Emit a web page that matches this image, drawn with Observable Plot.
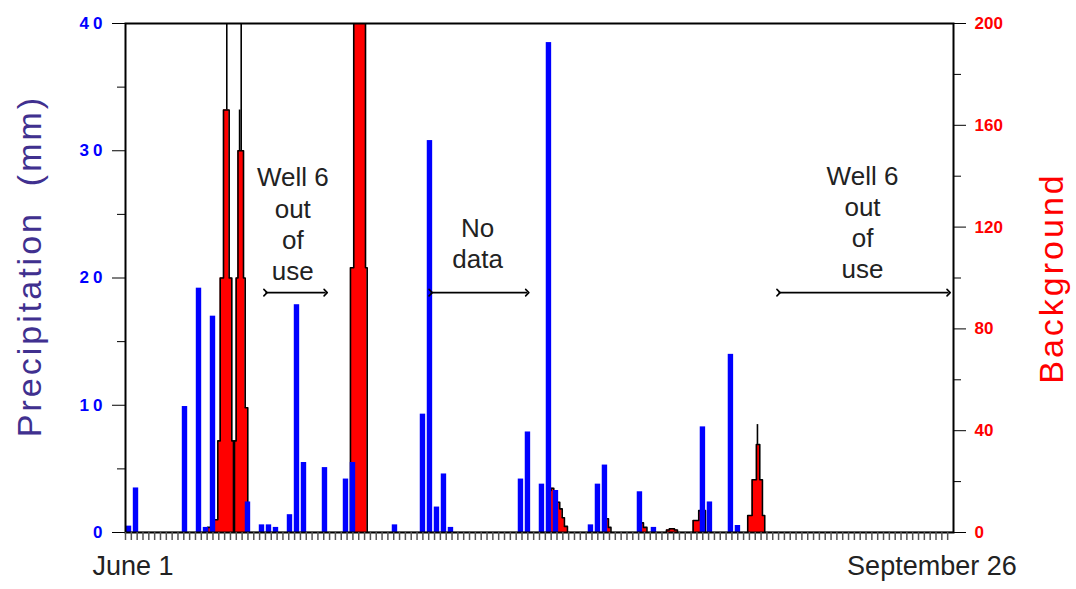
<!DOCTYPE html>
<html><head><meta charset="utf-8">
<script src="https://cdn.jsdelivr.net/npm/d3@7"></script>
<script src="https://cdn.jsdelivr.net/npm/@observablehq/plot@0.6"></script>
<style>
body{margin:0;background:#fff;}
#chart svg{display:block;}
</style></head><body><div id="chart"></div>
<script>
// Daily precipitation (day 0 = June 1)
const precipDay = [0,1,8,10,11,12,17,19,20,21,23,24,25,28,31,32,38,42,43,44,45,46,56,57,59,60,61,66,67,68,73,75,82,83,86,87];
const precipMm  = [0.5,3.5,9.9,19.2,0.4,17.0,2.4,0.6,0.6,0.4,1.4,17.9,5.5,5.1,4.2,5.5,0.6,9.3,30.8,2.0,4.6,0.4,4.2,7.9,3.8,38.5,3.3,0.6,3.8,5.3,3.2,0.4,8.3,2.4,14.0,0.55];

// Background series (step values, day fraction since June 1)
const bgDay   = [0,11.71,12.43,13.19,13.53,14.0,14.81,15.19,15.43,15.57,15.81,16.07,16.86,17.1,17.47,32.14,32.61,34.29,34.53,60.57,60.81,61.19,61.67,62.04,62.39,62.71,63.14,68.29,68.67,69.0,69.36,73.29,73.57,74.0,74.5,77.29,77.71,78.43,78.86,81.1,81.9,82.86,88.9,89.53,90.14,90.62,91.0,91.33,118.3];
const bgValue = [0,2,5,36,100,166,100,36,0,36,100,150,100,49,0,104,260,104,0,16.5,17.4,14.5,11.9,9.3,5.8,2.4,0,8,5.4,2,0,2,3.8,2,0,1,1.5,1,0,4.7,8.6,0,6.7,20.7,34.6,20.7,6.7,0,0];

// Narrow background peaks drawn as outlines
const spikeDay  = [14.47,16.3,16.53,90.29];
const spikeLow  = [166,150,150,34.6];
const spikeHigh = [260,166,260,42.4];

const leftTicks  = [0,10,20,30,40];
const leftMinor  = [5,15,25,35];
const rightTicks = [0,40,80,120,160,200];
const rightMinor = [20,60,100,140,180];
const bgPerMm = 5;
const xTickCount = 142;
const dayMax = 118.3;

const dateLabels = ["June 1","September 26"];
const dateDays   = [0,117];

const noteText = ["Well 6\nout\nof\nuse","No\ndata","Well 6\nout\nof\nuse"];
const noteDay  = [23.9,50.3,105.3];
const noteMm   = [24.3,22.8,24.45];
const arrowFrom = [20,43.6,93.3];
const arrowTo   = [28.6,57.4,117.6];
const arrowMm   = [18.85,18.85,18.85];

const precip = precipDay.map((d,i)=>({day:d, mm:precipMm[i]}));
const bg = bgDay.map((d,i)=>({day:d, v:bgValue[i]/bgPerMm}));
const spikes = spikeDay.map((d,i)=>({day:d, lo:spikeLow[i]/bgPerMm, hi:spikeHigh[i]/bgPerMm}));
const notes = noteText.map((t,i)=>({t, day:noteDay[i], mm:noteMm[i]}));
const arrows = arrowFrom.map((a,i)=>({a, b:arrowTo[i], mm:arrowMm[i]}));
const xTicks = d3.range(xTickCount).map(i=>i*dayMax/xTickCount);

const font = "'Liberation Sans', Arial, sans-serif";

const plot = Plot.plot({
  width:1076, height:589,
  marginLeft:125, marginRight:123, marginTop:23, marginBottom:57,
  style:{fontFamily:font, background:"#fff"},
  x:{domain:[0,dayMax]},
  y:{domain:[0,40]},
  marks:[
    Plot.areaY(bg,{x:"day", y:"v", curve:"step-after", fill:"#ff0000", clip:true}),
    Plot.lineY(bg,{x:"day", y:"v", curve:"step-after", stroke:"#000", strokeWidth:1.6, clip:true}),
    Plot.ruleX(spikes,{x:"day", y1:"lo", y2:"hi", stroke:"#000", strokeWidth:1.6, clip:true}),
    Plot.rectY(precip,{x1:"day", x2:d=>d.day+1, y:"mm", fill:"#0000ff", insetLeft:0.8, insetRight:0.8}),
    Plot.frame({stroke:"#000", strokeWidth:2}),
    // left axis
    Plot.axisY({anchor:"left", ticks:leftTicks, tickSize:13, tickPadding:10, fill:"#0000ff", stroke:"#000", fontWeight:"bold", fontSize:17, label:null}),
    Plot.axisY({anchor:"left", ticks:leftMinor, tickSize:8, tickFormat:()=>"", stroke:"#000", label:null}),
    // right axis (background units)
    Plot.axisY({anchor:"right", ticks:rightTicks.map(v=>v/bgPerMm), tickSize:12, tickPadding:9, tickFormat:d=>String(Math.round(d*bgPerMm)), fill:"#ff0000", stroke:"#000", fontWeight:"bold", fontSize:17, label:null}),
    Plot.axisY({anchor:"right", ticks:rightMinor.map(v=>v/bgPerMm), tickSize:7, tickFormat:()=>"", stroke:"#000", label:null}),
    // x ticks
    Plot.axisX({ticks:xTicks, tickSize:8, tickFormat:()=>"", stroke:"#555", strokeWidth:1.5, label:null}),
    Plot.text([dateLabels[0]],{x:[dateDays[0]+0.5], frameAnchor:"bottom", dy:42, dx:4, fontSize:27, fill:"#222"}),
    Plot.text([dateLabels[1]],{x:[dateDays[1]+0.5], frameAnchor:"bottom", dy:42, dx:-16, fontSize:27, fill:"#222"}),
    // axis titles
    Plot.text(["Precipitation  (mm)"],{frameAnchor:"left", textAnchor:"middle", dx:-95, dy:-12, rotate:-90, fontSize:34, fill:"#40308f"}),
    Plot.text(["Background"],{frameAnchor:"right", textAnchor:"middle", dx:99, rotate:-90, fontSize:34, fill:"#ff0000"}),
    // annotations
    Plot.text(notes,{x:"day", y:"mm", text:"t", fontSize:26, lineHeight:1.2, fill:"#222"}),
    Plot.link(arrows,{x1:"a", x2:"b", y1:"mm", y2:"mm", stroke:"#000", strokeWidth:1.6, markerStart:"arrow", markerEnd:"arrow"})
  ]
});
document.getElementById("chart").appendChild(plot);
const svg = d3.select(plot);
const tl = svg.selectAll('g[aria-label="y-axis tick label"]').nodes();
if (tl[0]) d3.select(tl[0]).selectAll("text").attr("letter-spacing","4px").attr("dx","4");
if (tl[1]) d3.select(tl[1]).selectAll("text").attr("letter-spacing","8px");
svg.selectAll('g[aria-label="text"] text').filter(function(){return /Precipitation|Background/.test(this.textContent);}).attr("letter-spacing","3px");
</script></body></html>
